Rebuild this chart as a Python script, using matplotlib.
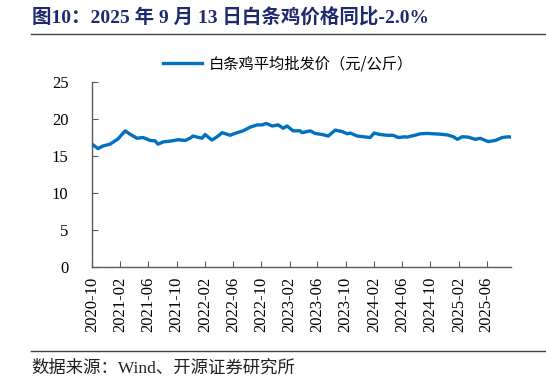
import numpy as np
import pandas as pd
import matplotlib
matplotlib.use("Agg")
import matplotlib.pyplot as plt
import matplotlib.dates as mdates
from matplotlib.lines import Line2D

plt.rcParams['font.family'] = ['Liberation Serif', 'Noto Sans CJK SC', 'DejaVu Sans']

# weekly-ish readings of the wholesale price of white-strip chicken (yuan/kg)
dates = ["2020-10-01", "2020-10-27", "2020-11-17", "2020-12-18", "2021-01-21",
         "2021-02-21", "2021-03-14", "2021-04-13", "2021-05-09", "2021-06-09",
         "2021-06-30", "2021-07-13", "2021-08-04", "2021-09-12", "2021-10-08",
         "2021-11-07", "2021-11-28", "2021-12-11", "2021-12-29", "2022-01-19",
         "2022-02-01", "2022-03-03", "2022-03-25", "2022-04-16", "2022-05-20",
         "2022-06-19", "2022-07-15", "2022-08-15", "2022-09-14", "2022-10-05",
         "2022-10-23", "2022-11-18", "2022-12-14", "2023-01-04", "2023-01-21",
         "2023-02-16", "2023-03-19", "2023-03-27", "2023-05-01", "2023-05-22",
         "2023-06-22", "2023-07-18", "2023-08-17", "2023-09-16", "2023-10-08",
         "2023-10-21", "2023-11-20", "2023-12-16", "2024-01-15", "2024-02-01",
         "2024-02-27", "2024-03-28", "2024-04-23", "2024-05-15", "2024-06-14",
         "2024-06-23", "2024-07-19", "2024-08-18", "2024-09-17", "2024-10-13",
         "2024-11-12", "2024-12-13", "2025-01-08", "2025-01-25", "2025-02-15",
         "2025-03-13", "2025-04-13", "2025-05-04", "2025-05-26", "2025-06-08",
         "2025-07-08", "2025-08-07", "2025-09-02", "2025-09-13"]
prices = [16.6, 16.0, 16.35, 16.6, 17.3,
          18.4, 17.95, 17.4, 17.5, 17.1,
          17.05, 16.6, 16.9, 17.05, 17.2,
          17.1, 17.4, 17.7, 17.55, 17.4,
          17.9, 17.15, 17.6, 18.15, 17.8,
          18.15, 18.4, 18.9, 19.2, 19.2,
          19.4, 19.05, 19.2, 18.75, 19.05,
          18.4, 18.4, 18.15, 18.4, 18.05,
          17.9, 17.7, 18.5, 18.3, 18.0,
          18.1, 17.7, 17.6, 17.5, 18.1,
          17.9, 17.8, 17.8, 17.5, 17.6,
          17.55, 17.75, 18.0, 18.05, 18.0,
          17.95, 17.85, 17.6, 17.25, 17.6,
          17.55, 17.25, 17.4, 17.1, 16.95,
          17.1, 17.5, 17.6, 17.55]
series_name = "白条鸡平均批发价（元/公斤）"
title = "图10：2025 年 9 月 13 日白条鸡价格同比-2.0%"
source = "数据来源：Wind、开源证券研究所"

t = pd.to_datetime(dates)

fig = plt.figure(figsize=(5.46, 3.77), dpi=100)
ax = fig.add_axes([0.1685, 0.2918, 0.7675, 0.4907])

line, = ax.plot(t, prices, color='#0070C0', lw=2.4, solid_joinstyle='round')

ax.set_ylim(0, 25)
ax.set_yticks([0, 5, 10, 15, 20, 25])
ax.set_xlim(pd.Timestamp("2020-10-01"), pd.Timestamp("2025-09-14"))
ax.xaxis.set_major_locator(mdates.MonthLocator(bymonth=[2, 6, 10]))
ax.xaxis.set_major_formatter(mdates.DateFormatter('%Y-%m'))
for lab in ax.get_xticklabels():
    lab.set_rotation(90)

for s in ['top', 'right']:
    ax.spines[s].set_visible(False)
for s in ['left', 'bottom']:
    ax.spines[s].set_color('#595959')
    ax.spines[s].set_linewidth(1.0)
ax.tick_params(direction='in', length=4, color='#595959', labelsize=12,
               labelcolor='black')
ax.tick_params(axis='y', pad=17)
ax.tick_params(axis='x', pad=7)

fig.legend([line], [series_name], loc='center', bbox_to_anchor=(0.527, 0.830),
           frameon=False, handlelength=2.6, handletextpad=0.4,
           prop={'family': ['Noto Sans CJK SC'], 'size': 11})

fig.text(0.058, 0.957, title, fontsize=14, fontweight='bold', color='#1F2A6E',
         va='center', ha='left')
fig.add_artist(Line2D([0.056, 1.0], [0.909, 0.909], transform=fig.transFigure,
                      color='#404040', lw=1.0))
fig.add_artist(Line2D([0.056, 1.0], [0.068, 0.068], transform=fig.transFigure,
                      color='#404040', lw=1.0))
fig.text(0.058, 0.022, source, fontsize=12.5, color='#202020', va='center', ha='left')

fig.savefig("out.png", dpi=100)
